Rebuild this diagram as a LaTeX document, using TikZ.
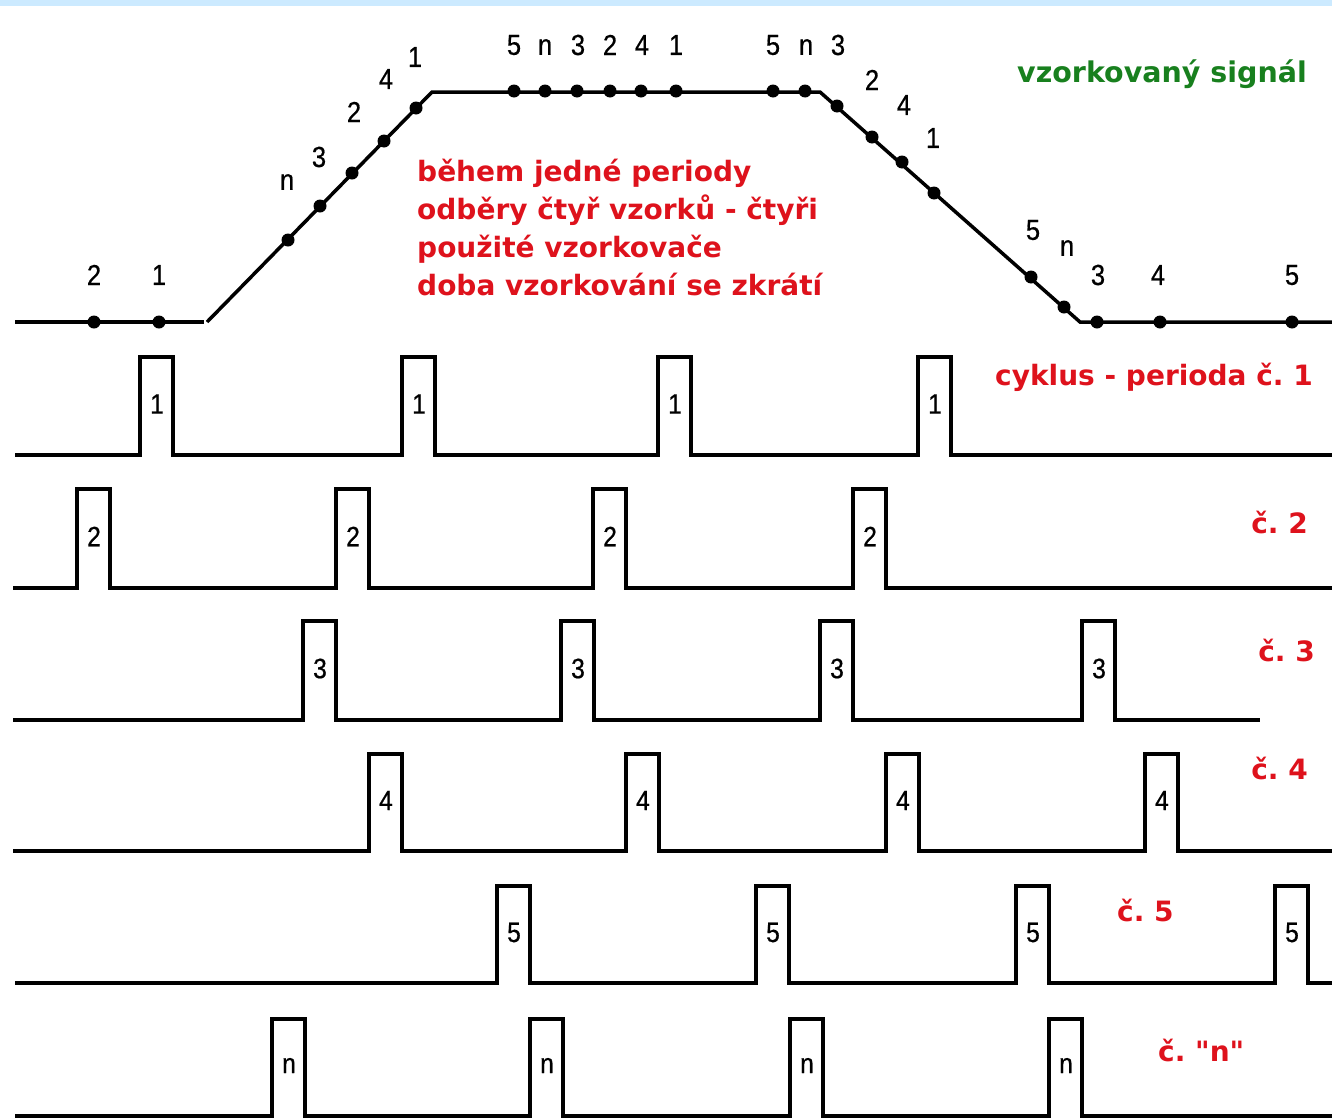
\documentclass[tikz,border=0pt]{standalone}
\usepackage{fontspec}
\setmainfont{Liberation Sans}
\newfontfamily\annfont{DejaVu Sans}
\newfontfamily\numfont[FakeStretch=0.88,FakeBold=0.6]{Liberation Sans}
\definecolor{annred}{RGB}{222,18,28}
\definecolor{anngreen}{RGB}{24,128,30}
\definecolor{topbar}{RGB}{204,234,255}
\frenchspacing
\begin{document}
\begin{tikzpicture}[x=1pt,y=-1pt,
  wave/.style={line width=3.5pt, line join=miter, line cap=butt},
  sdot/.style={circle, fill=black, inner sep=0pt, minimum size=13pt},
  num/.style={font=\numfont\fontsize{29}{32}\selectfont, inner sep=0pt},
  plab/.style={font=\numfont\fontsize{28}{32}\selectfont, inner sep=0pt},
  redtxt/.style={text=annred, font=\annfont\bfseries\fontsize{28}{38}\selectfont, inner sep=0pt, anchor=base west},
  redlab/.style={text=annred, font=\annfont\bfseries\fontsize{28}{30}\selectfont, inner sep=0pt},
  greentxt/.style={text=anngreen, font=\annfont\bfseries\fontsize{28.5}{30}\selectfont, inner sep=0pt}
]
\useasboundingbox (0,0) rectangle (1332,1119);
\fill[white] (0,0) rectangle (1332,1119);
\fill[topbar] (0,0) rectangle (1332,6);

% sampled signal
\draw[wave] (15,322) -- (204,322);
\draw[wave] (207,322) -- (432,92) -- (820,92) -- (1080,322) -- (1332,322);
\foreach \px/\py [count=\i] in {94/322,159/322,
  288/240,320/206,352/173,384/141,416/108,
  514/91,545/91,577/91,610/91,641/91,676/91,773/91,805/91,
  837/106,872/137,902/162,934/193,1031/277,1064/307,
  1097/322,1160/322,1292/322}
  \node[sdot] (d\i) at (\px,\py) {};

\foreach \lab/\px/\py [count=\i] in {2/94/275,1/159/275,
  n/287/182,3/319/157,2/354/112,4/386/79,1/415/57,
  5/514/45,n/545/47,3/578/45,2/610/45,4/642/45,1/676/45,5/773/45,n/806/47,3/838/45,
  2/872/80,4/904/105,1/933/138,5/1033/230,n/1067/248,3/1098/275,
  4/1158/275,5/1292/275}
  \node[num] (s\i) at (\px,\py) {\lab};

% pulse rows
\newcommand{\pulserow}[7]{%
  % #1 name, #2 baseline, #3 top, #4 start, #5 end, #6 label, #7 list
  \draw[wave] (#4,#2) \foreach \x in {#7} { -- (\x,#2) -- (\x,#3) -- (\x+33,#3) -- (\x+33,#2) } -- (#5,#2);
  \foreach \x [count=\k] in {#7}
    \node[plab] (#1p\k) at (\x+17,{(#2+#3)/2-2}) {#6};
}
\pulserow{ra}{455}{357}{15}{1332}{1}{140,402,658,918}
\pulserow{rb}{588}{489}{13}{1332}{2}{77,336,593,853}
\pulserow{rc}{720}{621}{13}{1260}{3}{303,561,820,1082}
\pulserow{rd}{851}{754}{13}{1332}{4}{369,626,886,1145}
\pulserow{re}{983}{886}{15}{1332}{5}{497,756,1016,1275}
\pulserow{rf}{1116}{1019}{15}{1332}{n}{272,530,790,1049}

% annotations
\node[greentxt, anchor=base east] (sig) at (1307,82) {vzorkovaný signál};
\node[redtxt] (t1) at (417,181) {během jedné periody};
\node[redtxt] (t2) at (417,219) {odběry čtyř vzorků - čtyři};
\node[redtxt] (t3) at (417,257) {použité vzorkovače};
\node[redtxt] (t4) at (417,295) {doba vzorkování se zkrátí};

\node[redlab, anchor=base east] (c1) at (1313,385) {cyklus - perioda č. 1};
\node[redlab, anchor=base east] (c2) at (1308,533) {č. 2};
\node[redlab, anchor=base east] (c3) at (1315,661) {č. 3};
\node[redlab, anchor=base east] (c4) at (1308,779) {č. 4};
\node[redlab, anchor=base west] (c5) at (1117,921) {č. 5};
\node[redlab, anchor=base west] (c6) at (1158,1061) {č. "n"};
\end{tikzpicture}
\end{document}
